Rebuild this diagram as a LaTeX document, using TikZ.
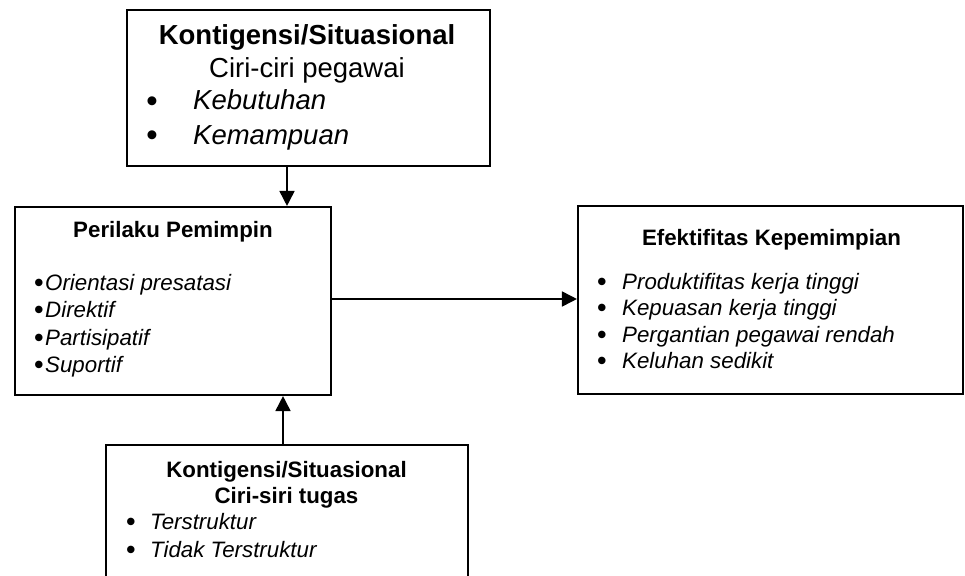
\documentclass[tikz,border=0pt]{standalone}
\usepackage{fontspec}
\setmainfont{Liberation Sans}
\usetikzlibrary{arrows.meta}
\begin{document}
\begin{tikzpicture}[x=1pt,y=-1pt,
  box/.style={draw, line width=2.1pt, inner sep=0pt, rectangle},
  arr/.style={line width=1.7pt, -{Triangle[length=15pt,width=15pt]}},
  big/.style={font=\fontsize{27.5}{33}\selectfont, inner sep=0pt},
  med/.style={font=\fontsize{22.3}{27}\selectfont, inner sep=0pt},
  bigb/.style={big, font=\fontsize{27.5}{33}\selectfont\bfseries},
  medb/.style={med, font=\fontsize{22.3}{27}\selectfont\bfseries},
  bigi/.style={big, font=\fontsize{27.5}{33}\selectfont\itshape},
  medi/.style={med, font=\fontsize{22.3}{27}\selectfont\itshape},
  bul/.style={inner sep=0pt, font=\fontsize{26}{30}\selectfont\bfseries},
  bulbig/.style={inner sep=0pt, font=\fontsize{31}{36}\selectfont\bfseries},
]
\clip (0,0) rectangle (965,575);
% boxes
\node[box, minimum width=363pt, minimum height=156pt] (top) at (308.5,88) {};
\node[box, minimum width=316pt, minimum height=188pt] (left) at (173,301) {};
\node[box, minimum width=385pt, minimum height=188pt] (right) at (770.5,300) {};
\node[box, minimum width=362pt, minimum height=170pt] (bottom) at (287,530) {};
% top box text
\node[bigb, anchor=base] (t1) at (307,45) {Kontigensi/Situasional};
\node[big, anchor=base] (t2) at (307,78) {Ciri-ciri pegawai};
\node[bulbig, anchor=base] (tb1) at (152,111) {•};
\node[bigi, anchor=base west] (ti1) at (193,110) {Kebutuhan};
\node[bulbig, anchor=base] (tb2) at (152,145) {•};
\node[bigi, anchor=base west] (ti2) at (193,144) {Kemampuan};
% left box text
\node[medb, anchor=base] (l1) at (173,237) {Perilaku Pemimpin};
\node[bul, anchor=base] (lb1) at (39,291) {•};
\node[medi, anchor=base west] (li1) at (45,290) {Orientasi presatasi};
\node[bul, anchor=base] (lb2) at (39,318) {•};
\node[medi, anchor=base west] (li2) at (45,317) {Direktif};
\node[bul, anchor=base] (lb3) at (39,346) {•};
\node[medi, anchor=base west] (li3) at (45,345) {Partisipatif};
\node[bul, anchor=base] (lb4) at (39,373) {•};
\node[medi, anchor=base west] (li4) at (45,372) {Suportif};
% right box text
\node[medb, anchor=base] (r1) at (771.5,245) {Efektifitas Kepemimpian};
\node[bul, anchor=base] (rb1) at (602,290) {•};
\node[medi, anchor=base west] (ri1) at (622,289) {Produktifitas kerja tinggi};
\node[bul, anchor=base] (rb2) at (602,316) {•};
\node[medi, anchor=base west] (ri2) at (622,315) {Kepuasan kerja tinggi};
\node[bul, anchor=base] (rb3) at (602,343) {•};
\node[medi, anchor=base west] (ri3) at (622,342) {Pergantian pegawai rendah};
\node[bul, anchor=base] (rb4) at (602,369) {•};
\node[medi, anchor=base west] (ri4) at (622,368) {Keluhan sedikit};
% bottom box text
\node[medb, anchor=base] (b1) at (286.5,477) {Kontigensi/Situasional};
\node[medb, anchor=base] (b2) at (286.5,503) {Ciri-siri tugas};
\node[bul, anchor=base] (bb1) at (131,530) {•};
\node[medi, anchor=base west] (bi1) at (150,529) {Terstruktur};
\node[bul, anchor=base] (bb2) at (131,558) {•};
\node[medi, anchor=base west] (bi2) at (150,557) {Tidak Terstruktur};
% connectors
\draw[arr] ([xshift=-21.5pt]top.south) -- ([xshift=-21.5pt]top.south |- left.north);
\draw[arr] ([yshift=2pt]left.east) -- ([yshift=2pt]left.east -| right.west);
\draw[arr] ([xshift=-4pt]bottom.north) -- ([xshift=-4pt]bottom.north |- left.south);
\end{tikzpicture}
\end{document}
